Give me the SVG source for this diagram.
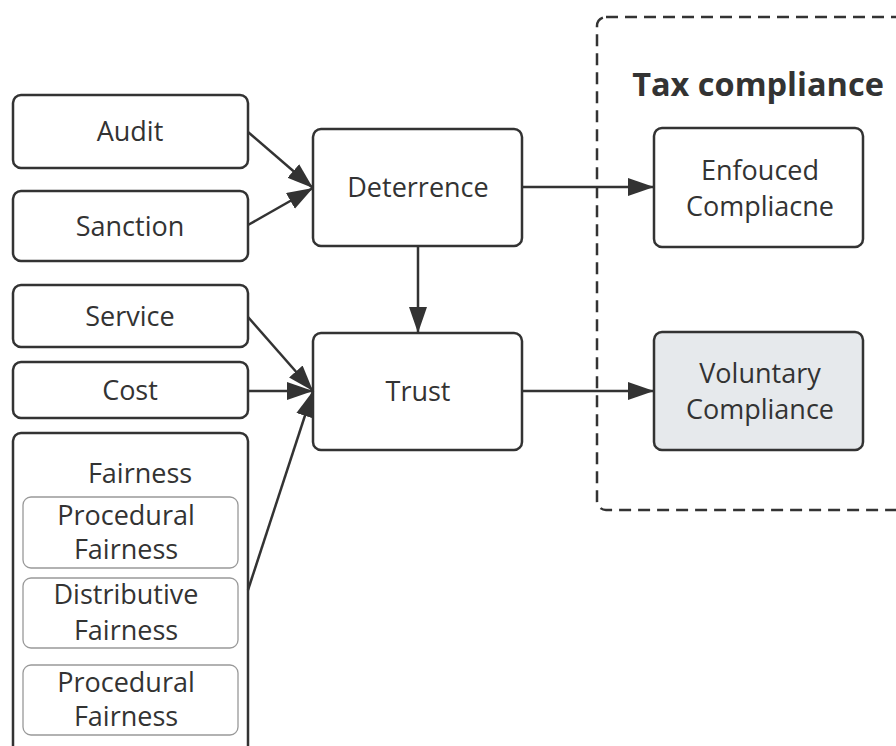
<svg xmlns="http://www.w3.org/2000/svg" width="896" height="746" viewBox="0 0 896 746">
<style>
.box{fill:#fff;stroke:#333;stroke-width:2.5}
.inner{fill:#fff;stroke:#999;stroke-width:1.3}
.t{font-family:"Open Sans","Liberation Sans",sans-serif;font-size:27px;fill:#333;text-anchor:middle}
.title{font-family:"Open Sans","Liberation Sans",sans-serif;font-size:32.5px;font-weight:bold;fill:#333;text-anchor:middle}
.c{stroke:#333;stroke-width:2.5;fill:none;marker-end:url(#ah)}
</style>
<defs>
<marker id="ah" markerUnits="userSpaceOnUse" markerWidth="28" markerHeight="20" refX="26" refY="9" orient="auto">
<path d="M0,0 L26,9 L0,18 Z" fill="#333"/>
</marker>
</defs>
<rect width="896" height="746" fill="#fff"/>
<g id="group-tax">
<rect x="597" y="17" width="330" height="493" rx="9" fill="none" stroke="#333" stroke-width="2.5" stroke-dasharray="12 7"/>
<text class="title" x="758" y="96">Tax compliance</text>
</g>
<g id="audit"><rect class="box" x="13" y="95" width="235" height="73" rx="8"/><text class="t" x="130" y="141">Audit</text></g>
<g id="sanction"><rect class="box" x="13" y="191" width="235" height="70" rx="8"/><text class="t" x="130" y="236">Sanction</text></g>
<g id="service"><rect class="box" x="13" y="285" width="235" height="62" rx="8"/><text class="t" x="130" y="326">Service</text></g>
<g id="cost"><rect class="box" x="13" y="362" width="235" height="56" rx="8"/><text class="t" x="130" y="400">Cost</text></g>
<g id="fairness">
<rect class="box" x="13" y="433" width="235" height="340" rx="8"/>
<text class="t" x="140" y="483">Fairness</text>
<rect class="inner" x="23" y="497" width="215" height="71" rx="8"/>
<text class="t" x="126" y="525">Procedural</text><text class="t" x="126" y="559">Fairness</text>
<rect class="inner" x="23" y="578" width="215" height="70" rx="8"/>
<text class="t" x="126" y="604">Distributive</text><text class="t" x="126" y="640">Fairness</text>
<rect class="inner" x="23" y="665" width="215" height="70" rx="8"/>
<text class="t" x="126" y="692">Procedural</text><text class="t" x="126" y="726">Fairness</text>
</g>
<g id="deterrence"><rect class="box" x="313" y="129" width="209" height="117" rx="8"/><text class="t" x="418" y="197">Deterrence</text></g>
<g id="trust"><rect class="box" x="313" y="333" width="209" height="117" rx="8"/><text class="t" x="418" y="401">Trust</text></g>
<g id="enforced"><rect class="box" x="654" y="128" width="209" height="119" rx="8"/><text class="t" x="760" y="180">Enfouced</text><text class="t" x="760" y="216">Compliacne</text></g>
<g id="voluntary"><rect class="box" x="654" y="332" width="209" height="118" rx="8" style="fill:#e6e9ec"/><text class="t" x="760" y="383">Voluntary</text><text class="t" x="760" y="419">Compliance</text></g>
<g id="connectors">
<path class="c" d="M248,132 L313,188"/>
<path class="c" d="M248,225 L313,188"/>
<path class="c" d="M522,187 L654,187"/>
<path class="c" d="M418,246 L418,333"/>
<path class="c" d="M522,391 L654,391"/>
<path class="c" d="M248,317 L313,391"/>
<path class="c" d="M248,391 L313,391"/>
<path class="c" d="M248,590 L313,391"/>
</g>
</svg>
